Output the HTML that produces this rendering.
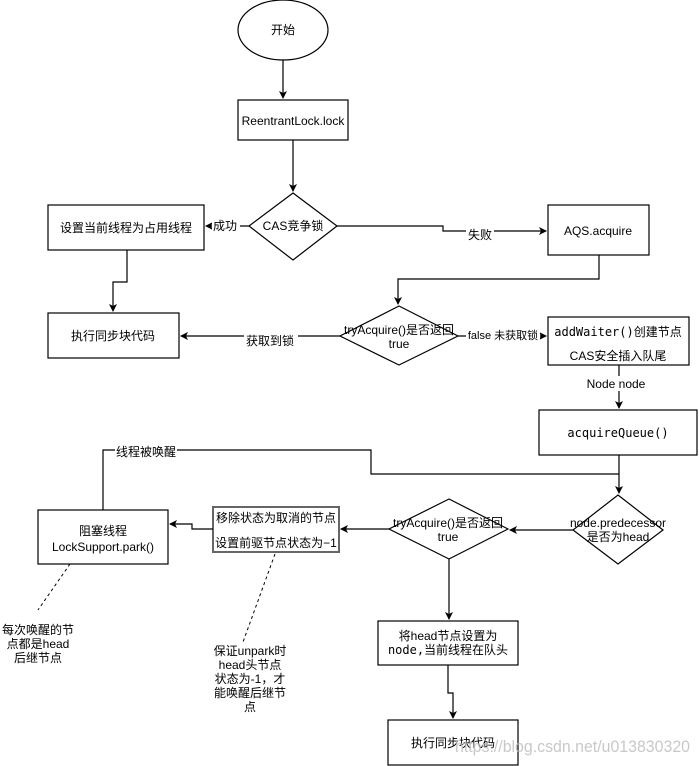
<!DOCTYPE html>
<html><head><meta charset="utf-8"><style>
html,body{margin:0;padding:0;background:#fff;}
svg{display:block;}
text{font-family:"Liberation Sans","Noto Sans CJK SC",sans-serif;font-size:12px;fill:#000;}
.m{font-family:"DejaVu Sans Mono","Noto Sans CJK SC",monospace;font-size:12px;}
</style></head><body>
<svg width="699" height="766" viewBox="0 0 699 766" xmlns="http://www.w3.org/2000/svg">
<defs><marker id="a" markerWidth="8" markerHeight="8" refX="7" refY="4" orient="auto" markerUnits="userSpaceOnUse"><path d="M0,0 L8,4 L0,8 L2,4 z" fill="#000"/></marker></defs>
<g fill="#fff" stroke="#000" stroke-width="1.2">
<ellipse cx="283" cy="30" rx="45" ry="30"/>
<rect x="238" y="100" width="110" height="40"/>
<polygon points="293,193 337,226 293,260 249,226"/>
<rect x="48" y="205" width="156" height="45"/>
<rect x="548" y="205" width="101" height="50"/>
<polygon points="399,306 458,336 399,365 340,336"/>
<rect x="48" y="313" width="131" height="45"/>
<rect x="548" y="317" width="141" height="48"/>
<rect x="539" y="410" width="158" height="45"/>
<polygon points="618,495 663,530 618,564 573,530"/>
<polygon points="449,499 508,529 449,559 389,529"/>
<rect x="213" y="507" width="126" height="45" stroke="#666" stroke-width="2"/>
<rect x="38" y="510" width="130" height="54"/>
<rect x="378" y="621" width="140" height="44"/>
<rect x="388" y="720" width="130" height="45"/>
</g>
<g fill="none" stroke="#000" stroke-width="1.2" marker-end="url(#a)">
<path d="M283,60 V98"/>
<path d="M293,140 V191"/>
<path d="M249,226 H206"/>
<path d="M337,226 H443 V231 H546"/>
<path d="M599,255 V279 H398 V304"/>
<path d="M127,250 V282 H113 V311"/>
<path d="M340,336 H181"/>
<path d="M458,336 H546"/>
<path d="M619,365 V408"/>
<path d="M619,455 V493"/>
<path d="M573,530 H510"/>
<path d="M389,529 H341"/>
<path d="M213,529 H192 V524 H170"/>
<path d="M449,559 V619"/>
<path d="M448,665 V693 H453 V718"/>
</g>
<path d="M103,510 V450 H371 V474 H619" fill="none" stroke="#000" stroke-width="1.2"/>
<g stroke="#000" stroke-dasharray="3,3" fill="none">
<path d="M70,564 L38,610"/>
<path d="M275,554 L243,642"/>
</g>
<g fill="#fff">
<rect x="212" y="218" width="28" height="15"/>
<rect x="466" y="228" width="28" height="14"/>
<rect x="244" y="333" width="54" height="15"/>
<rect x="466" y="327" width="74" height="15"/>
<rect x="585" y="376" width="64" height="15"/>
<rect x="115" y="444" width="62" height="15"/>
</g>
<g text-anchor="middle">
<text x="283" y="34">开始</text>
<text x="293" y="125">ReentrantLock.lock</text>
<text x="293" y="230">CAS竞争锁</text>
<text x="126" y="232">设置当前线程为占用线程</text>
<text x="225" y="230">成功</text>
<text x="480" y="239">失败</text>
<text x="598" y="235">AQS.acquire</text>
<text x="399" y="334">tryAcquire()是否返回</text>
<text x="399" y="348">true</text>
<text x="270" y="345">获取到锁</text>
<text x="113" y="340">执行同步块代码</text>
<text x="503" y="339" style="font-size:11px">false 未获取锁</text>
<text x="618" y="336" class="m">addWaiter()创建节点</text>
<text x="618" y="360">CAS安全插入队尾</text>
<text x="616" y="388">Node node</text>
<text x="618" y="437" class="m">acquireQueue()</text>
<text x="146" y="456">线程被唤醒</text>
<text x="618" y="527">node.predecessor</text>
<text x="618" y="541">是否为head</text>
<text x="448" y="527">tryAcquire()是否返回</text>
<text x="448" y="541">true</text>
<text x="276" y="522">移除状态为取消的节点</text>
<text x="276" y="547">设置前驱节点状态为−1</text>
<text x="103" y="535">阻塞线程</text>
<text x="103" y="551">LockSupport.park()</text>
<text x="38" y="634">每次唤醒的节</text>
<text x="38" y="648">点都是head</text>
<text x="38" y="662">后继节点</text>
<text x="250" y="655">保证unpark时</text>
<text x="250" y="669">head头节点</text>
<text x="250" y="683">状态为-1，才</text>
<text x="250" y="697">能唤醒后继节</text>
<text x="250" y="711">点</text>
<text x="448" y="640">将head节点设置为</text>
<text x="448" y="654" class="m">node,当前线程在队头</text>
<text x="453" y="747">执行同步块代码</text>
</g>
<text x="455" y="752" textLength="235" lengthAdjust="spacingAndGlyphs" style="font-size:17px;fill:#bbb;opacity:0.8">https://blog.csdn.net/u013830320</text>
</svg>
</body></html>
